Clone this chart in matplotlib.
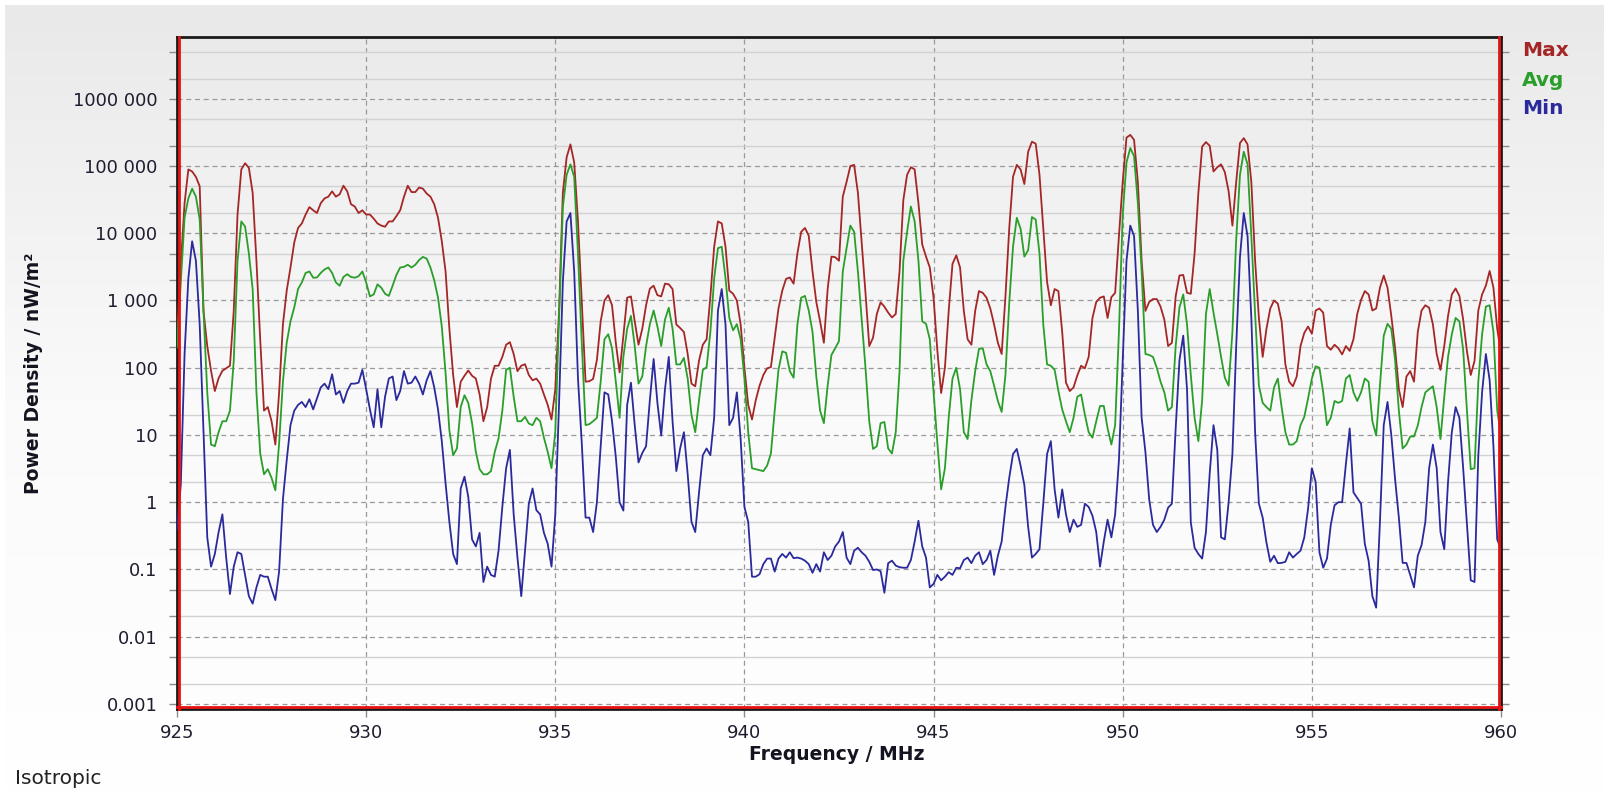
import numpy as np
import matplotlib
matplotlib.use('Agg')
import matplotlib.pyplot as plt
from matplotlib.colors import LinearSegmentedColormap
from matplotlib.ticker import FixedLocator, NullFormatter

# spectrum, 0.1 MHz steps from 925.0 to 960.0 MHz
freq = np.round(np.arange(9250, 9601) / 10, 1)

max_vals = [
    300, 3500, 28000, 89000, 83000, 69000, 50000, 700, 210, 90,
    45, 70, 90, 98, 107, 700, 19000, 89000, 110000, 94000,
    40000, 3900, 260, 23, 26, 16, 7.2, 43, 440, 1400,
    3100, 7300, 12000, 14000, 19000, 24500, 22000, 20000, 28000, 33000,
    35000, 42000, 35000, 38000, 51000, 42000, 27000, 25000, 20000, 22000,
    19000, 19000, 16500, 14000, 13000, 12500, 15000, 15000, 18000, 22000,
    35000, 51000, 41000, 41000, 48000, 46000, 39000, 35000, 27000, 17000,
    7600, 2700, 380, 78, 26, 62, 76, 91, 76, 69,
    40, 16, 26, 69, 107, 107, 145, 220, 240, 160,
    89, 107, 113, 78, 65, 69, 58, 40, 28, 17,
    48, 700, 40000, 135000, 210000, 113000, 15000, 1000, 62, 63,
    68, 130, 490, 1000, 1200, 850, 235, 85, 300, 1100,
    1150, 490, 220, 380, 850, 1500, 1660, 1200, 1150, 1780,
    1740, 1480, 440, 390, 340, 160, 58, 53, 128, 220,
    265, 1150, 6300, 15000, 14000, 6300, 1400, 1260, 1000, 440,
    100, 28, 17, 33, 54, 78, 98, 102, 280, 760,
    1400, 2100, 2200, 1780, 5000, 10500, 12000, 9200, 2700, 950,
    490, 235, 1480, 4500, 4400, 3900, 35000, 58000, 100000, 104000,
    40000, 7300, 1300, 210, 280, 630, 940, 810, 660, 560,
    630, 2700, 31000, 74000, 96000, 89000, 28000, 6800, 4500, 3100,
    1100, 180, 42, 100, 700, 3500, 4700, 3100, 700, 265,
    220, 700, 1380, 1300, 1100, 760, 440, 235, 160, 1150,
    11700, 69000, 104000, 89000, 54000, 163000, 230000, 215000, 74000, 11700,
    1900, 850, 1480, 1380, 340, 60, 45, 51, 77, 107,
    98, 145, 550, 950, 1100, 1150, 550, 1120, 1300, 9100,
    58000, 265000, 290000, 245000, 58000, 3900, 700, 950, 1050, 1050,
    810, 520, 210, 235, 1150, 2350, 2400, 1300, 1260, 5000,
    40000, 195000, 227000, 200000, 83000, 96000, 106000, 81000, 42000, 13000,
    58000, 220000, 260000, 210000, 58000, 3900, 550, 145, 380, 760,
    1000, 900, 490, 112, 62, 53, 74, 210, 330, 410,
    320, 710, 760, 660, 210, 185, 220, 195, 158, 210,
    178, 265, 630, 1020, 1380, 1230, 710, 760, 1550, 2350,
    1550, 590, 195, 48, 26, 74, 89, 62, 340, 710,
    850, 780, 440, 160, 93, 210, 590, 1230, 1510, 1170,
    520, 175, 78, 126, 710, 1230, 1660, 2750, 1550, 380,
    160,
]

avg_vals = [
    200, 1900, 17000, 33000, 46000, 35000, 16000, 710, 43, 7.2,
    6.8, 11, 16, 16, 23, 126, 3900, 15000, 12600, 5000,
    1480, 43, 5.3, 2.6, 3.1, 2.3, 1.5, 7.6, 62, 235,
    490, 790, 1480, 1860, 2570, 2700, 2180, 2200, 2570, 2900,
    3100, 2570, 1860, 1660, 2240, 2460, 2240, 2180, 2300, 2700,
    1860, 1150, 1230, 1740, 1550, 1260, 1170, 1660, 2400, 3100,
    3160, 3400, 3100, 3400, 4000, 4450, 4200, 3100, 2000, 1100,
    410, 83, 11.7, 5.0, 6.3, 26, 39, 30, 15, 5.6,
    3.1, 2.6, 2.6, 2.9, 5.6, 8.9, 23, 93, 100, 37,
    16, 16, 18.6, 14.8, 14, 18, 16, 9.1, 5.6, 3.2,
    11, 550, 24500, 74000, 106000, 69000, 5000, 235, 14, 14.5,
    16, 18, 62, 265, 315, 195, 62, 18, 145, 380,
    590, 210, 58, 74, 210, 445, 710, 410, 210, 520,
    780, 380, 112, 112, 140, 69, 20, 11, 33, 93,
    102, 340, 2140, 6000, 6300, 2140, 550, 360, 445, 265,
    69, 11, 3.2, 3.1, 3.0, 2.9, 3.5, 5.3, 23, 93,
    175, 167, 89, 71, 440, 1100, 1170, 710, 340, 74,
    23, 15, 54, 155, 195, 250, 2700, 6000, 13000, 10500,
    2700, 520, 100, 16, 6.2, 6.8, 15, 15.6, 6.3, 5.3,
    11, 89, 3900, 10500, 25000, 15000, 3900, 490, 450, 265,
    43, 7.6, 1.55, 3.2, 18, 69, 100, 48, 11, 8.7,
    33, 89, 190, 195, 112, 89, 54, 32, 22, 78,
    910, 6300, 17000, 11700, 4500, 5600, 17400, 16000, 5000, 440,
    112, 107, 93, 45, 24, 16, 11, 18, 37, 40,
    20, 11, 9.1, 16, 27, 27, 12.6, 7.2, 14, 340,
    19000, 113000, 185000, 140000, 28000, 2700, 160, 155, 145, 100,
    62, 43, 23, 26, 210, 790, 1230, 440, 78, 18,
    8.1, 33, 630, 1480, 660, 315, 145, 71, 54, 340,
    8100, 74000, 163000, 106000, 9100, 630, 54, 30, 26, 23,
    51, 69, 26, 11, 7.2, 7.2, 8.1, 14, 18.6, 35,
    69, 105, 100, 43, 14, 18, 32, 30, 32, 69,
    78, 43, 32, 43, 69, 62, 16, 9.8, 54, 300,
    450, 380, 130, 23, 6.3, 7.2, 9.5, 9.5, 13.8, 26,
    43, 48, 53, 26, 8.7, 37, 145, 315, 550, 490,
    185, 23, 3.1, 3.2, 62, 315, 810, 850, 340, 23,
    10,
]

min_vals = [
    0.4, 1.8, 160, 2140, 7600, 3900, 440, 11, 0.3, 0.11,
    0.17, 0.36, 0.66, 0.15, 0.043, 0.11, 0.18, 0.17, 0.083, 0.04,
    0.031, 0.054, 0.083, 0.078, 0.078, 0.051, 0.035, 0.094, 1.1, 4.2,
    14, 23, 28, 31, 26, 34, 24, 35, 51, 58,
    48, 80, 40, 45, 30, 45, 58, 58, 60, 93,
    48, 24, 13, 48, 13, 37, 69, 74, 33, 45,
    89, 58, 60, 74, 58, 40, 65, 89, 51, 24,
    8.1, 1.9, 0.51, 0.17, 0.12, 1.6, 2.4, 1.2, 0.28, 0.22,
    0.35, 0.065, 0.11, 0.083, 0.078, 0.19, 0.85, 3.2, 6.0, 0.66,
    0.15, 0.04, 0.19, 0.95, 1.6, 0.76, 0.66, 0.35, 0.24, 0.11,
    0.66, 30, 1900, 15000, 20000, 2700, 69, 7.6, 0.59, 0.59,
    0.36, 1.0, 6.8, 43, 40, 16, 4.7, 1.0, 0.75, 28,
    60, 14, 3.9, 5.4, 6.8, 33, 135, 30, 9.8, 48,
    145, 16, 2.9, 6.3, 11, 2.6, 0.51, 0.36, 1.4, 5.0,
    6.3, 5.0, 18, 710, 1480, 440, 14, 18, 43, 8.7,
    0.85, 0.51, 0.078, 0.078, 0.085, 0.12, 0.145, 0.145, 0.093, 0.145,
    0.17, 0.15, 0.18, 0.147, 0.15, 0.145, 0.135, 0.12, 0.089, 0.12,
    0.093, 0.18, 0.138, 0.16, 0.22, 0.26, 0.36, 0.15, 0.12, 0.19,
    0.21, 0.18, 0.16, 0.13, 0.098, 0.1, 0.094, 0.045, 0.124, 0.135,
    0.114, 0.108, 0.106, 0.106, 0.138, 0.26, 0.53, 0.22, 0.15, 0.054,
    0.061, 0.083, 0.069, 0.078, 0.091, 0.083, 0.106, 0.104, 0.138, 0.15,
    0.124, 0.16, 0.18, 0.12, 0.138, 0.19, 0.083, 0.16, 0.26, 0.85,
    2.3, 5.2, 6.2, 3.5, 1.8, 0.43, 0.15, 0.17, 0.2, 0.95,
    5.2, 8.1, 1.55, 0.59, 1.55, 0.66, 0.36, 0.55, 0.43, 0.46,
    0.95, 0.85, 0.63, 0.36, 0.11, 0.26, 0.55, 0.3, 0.66, 4.2,
    128, 3900, 13000, 9100, 710, 18, 5.6, 1.1, 0.46, 0.36,
    0.43, 0.55, 0.83, 0.95, 12.5, 130, 300, 48, 0.5, 0.21,
    0.17, 0.145, 0.36, 2.7, 14, 6.0, 0.3, 0.28, 1.0, 5.2,
    210, 4450, 20000, 9100, 550, 11, 0.95, 0.59, 0.25, 0.13,
    0.16, 0.124, 0.125, 0.13, 0.18, 0.15, 0.17, 0.19, 0.3, 0.8,
    3.2, 2.0, 0.18, 0.106, 0.145, 0.46, 0.9, 1.0, 1.0, 3.7,
    12.5, 1.4, 1.15, 0.95, 0.24, 0.135, 0.04, 0.027, 0.51, 14,
    31, 10, 2.2, 0.59, 0.125, 0.125, 0.083, 0.054, 0.16, 0.23,
    0.51, 3.2, 7.2, 3.2, 0.36, 0.2, 2.0, 11, 26, 18,
    3.2, 0.46, 0.069, 0.065, 5, 43, 160, 65, 6.8, 0.28,
    0.2,
]

x_ticks = [925, 930, 935, 940, 945, 950, 955, 960]
y_ticks = [1e-3, 1e-2, 1e-1, 1, 10, 100, 1e3, 1e4, 1e5, 1e6]
y_labels = ['0.001', '0.01', '0.1', '1', '10', '100', '1 000', '10 000', '100 000', '1000 000']

c_max = '#a52626'
c_avg = '#2a9e2a'
c_min = '#2a2a9c'
c_text = '#1e1e30'

W, H = 1604, 794
fig = plt.figure(figsize=(W / 100, H / 100), dpi=100, facecolor='white')

# grey -> white background gradient
bg = fig.add_axes([5 / W, 0, 1 - 5 / W, 1 - 5 / H], zorder=-10)
grad = np.linspace(0, 1, 256).reshape(-1, 1)
cmap = LinearSegmentedColormap.from_list('bg', ['#ffffff', '#fafafa', '#e9e9e9'])
bg.imshow(grad, aspect='auto', cmap=cmap, origin='lower', extent=[0, 1, 0, 1])
bg.axis('off')

left, right, top, bottom = 177, 1501, 37, 709
ax = fig.add_axes([left / W, 1 - bottom / H, (right - left) / W, (bottom - top) / H])
ax.set_facecolor('none')
ax.set_yscale('log')

ax.plot(freq, max_vals, color=c_max, lw=1.3, zorder=3)
ax.plot(freq, avg_vals, color=c_avg, lw=1.3, zorder=3)
ax.plot(freq, min_vals, color=c_min, lw=1.3, zorder=3)

ax.set_xlim(925, 960)
ax.set_ylim(8.4e-4, 8.3e6)

ax.set_xticks(x_ticks)
ax.set_xticklabels([str(t) for t in x_ticks])
ax.yaxis.set_major_locator(FixedLocator(y_ticks))
ax.set_yticklabels(y_labels)
minor = [m * 10.0 ** k for k in range(-4, 7) for m in (2, 5)]
ax.yaxis.set_minor_locator(FixedLocator(minor))
ax.yaxis.set_minor_formatter(NullFormatter())

ax.grid(True, which='major', axis='both', color='#9a9a9a', lw=0.9, ls=(0, (4, 3)), zorder=1)
ax.grid(True, which='minor', axis='y', color='#d2d2d2', lw=1.0, ls='-', zorder=1)
ax.set_axisbelow(True)

ax.tick_params(axis='y', which='both', direction='out', length=6, width=1,
               color='#8c8c8c', pad=8, labelsize=13, labelcolor=c_text, right=True)
ax.tick_params(axis='x', which='major', direction='out', length=6, width=1,
               color='#8c8c8c', pad=5, labelsize=13, labelcolor=c_text)

for s in ax.spines.values():
    s.set_color('#1a1a1a')
    s.set_linewidth(2)
# red inner frame on left, right and bottom
ax.plot([0.0016, 0.0016], [0, 1], transform=ax.transAxes, color='#e81212', lw=2, clip_on=False, zorder=6)
ax.plot([0.9984, 0.9984], [0, 1], transform=ax.transAxes, color='#e81212', lw=2, clip_on=False, zorder=6)
ax.plot([0, 1], [0.003, 0.003], transform=ax.transAxes, color='#e81212', lw=2, clip_on=False, zorder=6)

fig.text(837 / W, 1 - 755 / H, 'Frequency / MHz', ha='center', va='center',
         fontsize=13.5, fontweight='bold', color='#141420')
fig.text(34 / W, 1 - 373 / H, 'Power Density / nW/m²', ha='center', va='center',
         rotation=90, fontsize=13.5, fontweight='bold', color='#141420')

fig.text(1522 / W, 1 - 51 / H, 'Max', ha='left', va='center', fontsize=14.5, fontweight='bold', color=c_max)
fig.text(1522 / W, 1 - 80 / H, 'Avg', ha='left', va='center', fontsize=14.5, fontweight='bold', color=c_avg)
fig.text(1522 / W, 1 - 109 / H, 'Min', ha='left', va='center', fontsize=14.5, fontweight='bold', color=c_min)

fig.text(15 / W, 1 - 778 / H, 'Isotropic', ha='left', va='center', fontsize=14.5, color='#222222')

fig.savefig('out.png', dpi=100, facecolor=fig.get_facecolor())
